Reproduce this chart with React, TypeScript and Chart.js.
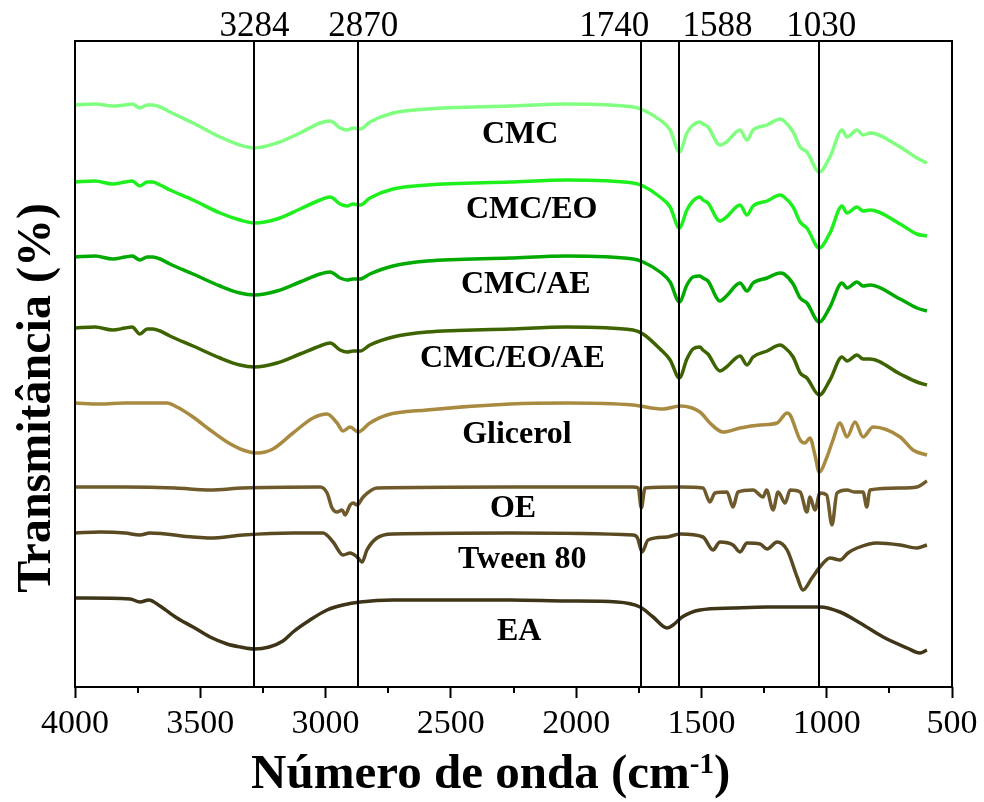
import { useEffect, useRef } from 'react';
import { Chart, registerables } from 'chart.js';

Chart.register(...registerables);

// Wavenumbers (cm-1) shared by the four CMC film spectra
const waveCMC = [4000, 3920, 3850, 3800, 3772, 3741, 3712, 3690, 3660, 3621, 3529, 3421, 3342, 3284, 3194, 3102, 3022, 2982, 2942, 2914, 2890, 2862, 2823, 2731, 2595, 2264, 2036, 1773, 1733, 1665, 1625, 1588, 1558, 1534, 1506, 1494, 1474, 1426, 1400, 1346, 1318, 1294, 1238, 1186, 1170, 1134, 1106, 1079, 1030, 987, 939, 919, 879, 855, 827, 707, 640, 600];
// Stacked transmittance (arbitrary units, offset per spectrum)
const tCMC = [582, 583, 581, 582, 583, 579, 582, 582, 580, 575, 564, 550, 542, 539, 544, 554, 564, 566, 559, 557, 559, 558, 565, 574, 578, 581, 583, 580, 577, 567, 557, 535, 554, 562, 565, 563, 560, 542, 545, 557, 547, 557, 562, 568, 566, 555, 540, 535, 515, 530, 557, 550, 557, 552, 554, 540, 529, 524];
const tCMCEO = [505, 506, 503, 505, 506, 501, 505, 505, 502, 497, 487, 474, 467, 464, 468, 478, 487, 490, 483, 481, 483, 482, 489, 498, 502, 505, 507, 504, 501, 490, 480, 459, 477, 486, 490, 487, 484, 466, 470, 482, 472, 481, 486, 492, 490, 480, 465, 459, 439, 454, 481, 474, 480, 476, 477, 463, 453, 451];
const tCMCAE = [430, 431, 428, 430, 431, 427, 430, 430, 428, 423, 413, 401, 394, 392, 396, 405, 413, 415, 409, 407, 408, 408, 413, 421, 426, 429, 431, 428, 425, 415, 405, 385, 402, 410, 411, 409, 406, 386, 391, 404, 396, 404, 409, 414, 413, 403, 389, 384, 365, 380, 404, 399, 405, 401, 402, 388, 379, 376];
const tCMCEOAE = [359, 360, 357, 359, 360, 353, 358, 358, 356, 351, 341, 329, 322, 320, 324, 333, 341, 344, 337, 335, 336, 336, 342, 350, 355, 358, 360, 357, 353, 338, 327, 309, 328, 338, 340, 337, 333, 316, 320, 331, 322, 330, 336, 342, 340, 330, 314, 309, 292, 307, 330, 326, 332, 328, 328, 313, 305, 302];

const waveGli = [4000, 3900, 3800, 3700, 3633, 3593, 3529, 3461, 3393, 3330, 3274, 3210, 3130, 3050, 2994, 2954, 2930, 2902, 2870, 2823, 2755, 2595, 2264, 2036, 1773, 1653, 1585, 1506, 1466, 1414, 1346, 1266, 1198, 1158, 1146, 1106, 1087, 1067, 1047, 1030, 999, 975, 947, 919, 887, 855, 815, 707, 656, 600];
const tGli = [284, 283, 284, 284, 284, 280, 270, 257, 245, 237, 234, 238, 254, 269, 273, 264, 256, 260, 255, 264, 272, 277, 283, 284, 282, 278, 281, 275, 264, 255, 259, 262, 264, 274, 272, 247, 244, 249, 232, 215, 230, 247, 264, 250, 265, 250, 260, 250, 237, 232];

const waveOE = [4000, 3800, 3600, 3461, 3330, 3022, 2994, 2974, 2954, 2934, 2922, 2902, 2890, 2874, 2850, 2795, 2264, 1773, 1752, 1740, 1725, 1585, 1494, 1466, 1446, 1398, 1374, 1354, 1294, 1254, 1240, 1214, 1194, 1166, 1146, 1106, 1079, 1067, 1047, 1027, 1000, 979, 959, 919, 890, 855, 840, 828, 707, 640, 600];
const tOE = [200, 200, 199, 197, 199, 200, 194, 179, 175, 177, 172, 182, 184, 182, 190, 199, 200, 200, 199, 179, 199, 200, 199, 185, 194, 195, 180, 195, 197, 190, 197, 177, 195, 184, 197, 195, 175, 190, 177, 194, 192, 162, 194, 197, 195, 195, 180, 197, 199, 200, 206];

const waveTw = [4000, 3900, 3800, 3741, 3701, 3529, 3461, 3330, 3130, 3010, 2970, 2930, 2902, 2874, 2854, 2835, 2795, 2731, 2264, 1773, 1755, 1737, 1713, 1637, 1585, 1494, 1454, 1426, 1374, 1346, 1318, 1266, 1238, 1198, 1158, 1118, 1095, 1059, 1027, 987, 947, 915, 879, 799, 707, 640, 600];
const tTw = [154, 155, 154, 152, 154, 150, 149, 152, 154, 154, 145, 132, 134, 130, 125, 137, 149, 153, 154, 152, 149, 135, 147, 150, 153, 150, 137, 145, 142, 135, 144, 143, 138, 145, 137, 110, 97, 109, 120, 129, 127, 134, 139, 144, 142, 139, 142];

const waveEA = [4000, 3780, 3741, 3705, 3661, 3593, 3529, 3461, 3393, 3340, 3284, 3225, 3170, 3130, 3062, 2994, 2930, 2862, 2731, 2264, 2036, 1837, 1745, 1693, 1637, 1613, 1577, 1506, 1374, 1238, 1027, 947, 867, 775, 679, 628, 600];
const tEA = [89, 88, 85, 87, 81, 69, 60, 50, 43, 40, 38, 40, 46, 55, 67, 77, 82, 85, 87, 87, 86, 85, 80, 70, 59, 62, 70, 77, 79, 80, 80, 75, 64, 50, 39, 34, 37];

const seriesNames = ['CMC', 'CMC/EO', 'CMC/AE', 'CMC/EO/AE', 'Glicerol', 'OE', 'Tween 80', 'EA'];
const seriesWaves = [waveCMC, waveCMC, waveCMC, waveCMC, waveGli, waveOE, waveTw, waveEA];
const seriesValues = [tCMC, tCMCEO, tCMCAE, tCMCEOAE, tGli, tOE, tTw, tEA];

// Characteristic band positions (cm-1)
const bandMarkers = [3284, 2870, 1740, 1588, 1030];
const xTicks = [4000, 3500, 3000, 2500, 2000, 1500, 1000, 500];

// Styling
const seriesColors = ['#80FF80', '#1EF01E', '#00AA00', '#3D6400', '#A88A40', '#6E5A2A', '#5A4A22', '#3E3418'];
// Band label placement relative to its line (alignment, pixel shift)
const bandLabelAlign: CanvasTextAlign[] = ['center', 'center', 'right', 'left', 'center'];
const bandLabelShift = [0, 5, 8, 3, 2];
// Where each spectrum name sits (wavenumber of left edge, baseline in y units)
const nameAnchors = [
  { x: 2376, y: 544 },
  { x: 2440, y: 469 },
  { x: 2460, y: 394 },
  { x: 2623, y: 320 },
  { x: 2455, y: 244 },
  { x: 2344, y: 170 },
  { x: 2471, y: 119 },
  { x: 2316, y: 47 },
];

const SERIF = '"Liberation Serif", "Times New Roman", serif';

const overlayPlugin = {
  id: 'ftirOverlay',
  afterDatasetsDraw(chart: any) {
    const { ctx, chartArea: a, scales } = chart;
    const xs = scales.x;
    const ys = scales.y;
    ctx.save();
    ctx.strokeStyle = '#000';
    ctx.fillStyle = '#000';
    ctx.lineWidth = 2;

    // band marker lines
    bandMarkers.forEach((m) => {
      const px = Math.round(xs.getPixelForValue(m));
      ctx.beginPath();
      ctx.moveTo(px, a.top);
      ctx.lineTo(px, a.bottom);
      ctx.stroke();
    });

    // frame
    ctx.strokeRect(a.left, a.top, a.right - a.left, a.bottom - a.top);

    // minor ticks between labelled ticks
    for (let i = 0; i < xTicks.length - 1; i++) {
      const v = (xTicks[i] + xTicks[i + 1]) / 2;
      const px = Math.round(xs.getPixelForValue(v));
      ctx.beginPath();
      ctx.moveTo(px, a.bottom);
      ctx.lineTo(px, a.bottom + 6);
      ctx.stroke();
    }

    // band labels above the frame
    ctx.font = `35px ${SERIF}`;
    ctx.textBaseline = 'alphabetic';
    bandMarkers.forEach((m, i) => {
      ctx.textAlign = bandLabelAlign[i];
      ctx.fillText(String(m), xs.getPixelForValue(m) + bandLabelShift[i], a.top - 5);
    });

    // spectrum names
    ctx.font = `bold 32px ${SERIF}`;
    ctx.textAlign = 'left';
    seriesNames.forEach((name, i) => {
      const an = nameAnchors[i];
      ctx.fillText(name, xs.getPixelForValue(an.x), ys.getPixelForValue(an.y));
    });

    // x axis title with superscript
    const mainTxt = 'Número de onda (cm';
    const supTxt = '-1';
    const tailTxt = ')';
    const fMain = `bold 49px ${SERIF}`;
    const fSup = `bold 29px ${SERIF}`;
    ctx.font = fMain;
    const wMain = ctx.measureText(mainTxt).width;
    const wTail = ctx.measureText(tailTxt).width;
    ctx.font = fSup;
    const wSup = ctx.measureText(supTxt).width;
    const total = wMain + wSup + wTail;
    const cx = a.left + (a.right - a.left) * 0.474;
    let sx = cx - total / 2;
    const base = a.bottom + 101;
    ctx.textAlign = 'left';
    ctx.font = fMain;
    ctx.fillText(mainTxt, sx, base);
    sx += wMain;
    ctx.font = fSup;
    ctx.fillText(supTxt, sx, base - 15);
    sx += wSup;
    ctx.font = fMain;
    ctx.fillText(tailTxt, sx, base);

    // y axis title
    ctx.save();
    ctx.translate(50, (a.top + a.bottom) / 2 + 34);
    ctx.rotate(-Math.PI / 2);
    ctx.textAlign = 'center';
    ctx.font = `bold 48px ${SERIF}`;
    ctx.fillText('Transmitância (%)', 0, 0);
    ctx.restore();

    ctx.restore();
  },
};

export default function App() {
  const canvasRef = useRef<HTMLCanvasElement | null>(null);

  useEffect(() => {
    const canvas = canvasRef.current;
    if (!canvas) return;
    const datasets = seriesNames.map((name, i) => ({
      label: name,
      data: seriesWaves[i].map((w, j) => ({ x: w, y: seriesValues[i][j] })),
      borderColor: seriesColors[i],
      backgroundColor: seriesColors[i],
      borderWidth: 3.5,
      pointRadius: 0,
      cubicInterpolationMode: 'monotone' as const,
      fill: false,
    }));

    const chart = new Chart(canvas, {
      type: 'line',
      data: { datasets },
      options: {
        responsive: false,
        animation: false,
        devicePixelRatio: 1,
        layout: { padding: { top: 41, right: 32, left: 0, bottom: 0 } },
        plugins: {
          legend: { display: false },
          tooltip: { enabled: false },
        },
        scales: {
          x: {
            type: 'linear',
            reverse: true,
            min: 500,
            max: 4000,
            afterBuildTicks: (scale: any) => {
              scale.ticks = xTicks.map((v) => ({ value: v }));
            },
            ticks: {
              color: '#000',
              font: { family: SERIF, size: 34 },
              padding: 6,
              autoSkip: false,
              maxRotation: 0,
              callback: (v: any) => String(v),
            },
            grid: {
              drawOnChartArea: false,
              tickLength: 11,
              tickWidth: 2,
              tickColor: '#000',
            },
            border: { display: false },
            afterFit: (scale: any) => {
              scale.height = 115;
            },
          },
          y: {
            type: 'linear',
            min: 0,
            max: 646,
            ticks: { display: false },
            grid: { display: false },
            border: { display: false },
            afterFit: (scale: any) => {
              scale.width = 75;
            },
          },
        },
      },
      plugins: [overlayPlugin],
    });

    return () => chart.destroy();
  }, []);

  return (
    <div style={{ position: 'absolute', left: 0, top: 0, width: 984, height: 802, background: '#fff' }}>
      <canvas ref={canvasRef} width={984} height={802} style={{ display: 'block' }} />
    </div>
  );
}
